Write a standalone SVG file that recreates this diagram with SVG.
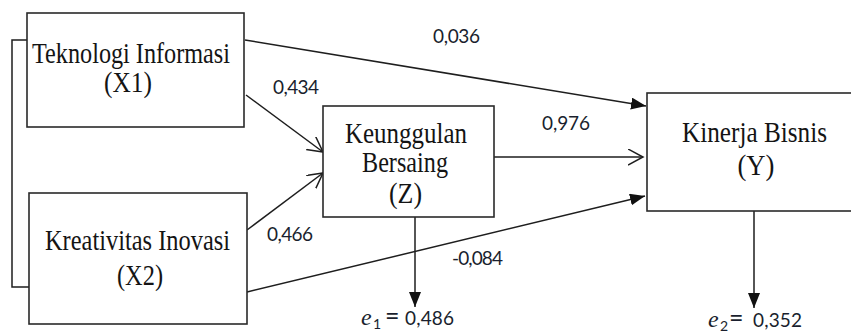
<svg xmlns="http://www.w3.org/2000/svg" width="851" height="334" viewBox="0 0 851 334">
<style>
.box{fill:#fff;stroke:#2a2a2a;stroke-width:1.6}
.bt{font-family:"Liberation Serif","Times New Roman",serif;font-size:29px;fill:#141414;text-anchor:middle}
.ln{fill:none;stroke:#1e1e1e;stroke-width:1.5}
.num{font-family:Lato,"Liberation Sans",sans-serif;font-size:19px;fill:#1a1f2e}
.ev{font-family:"Liberation Serif",serif;font-style:italic;font-size:24px;fill:#1a1f2e}
.sub{font-family:Lato,"Liberation Sans",sans-serif;font-size:14px;fill:#1a1f2e}
</style>
<defs>
<marker id="fa" markerUnits="userSpaceOnUse" markerWidth="16" markerHeight="14" refX="15" refY="6" orient="auto">
<path d="M0,0 L15,6 L0,12 z" fill="#111"/>
</marker>
<marker id="oa" markerUnits="userSpaceOnUse" markerWidth="18" markerHeight="18" refX="15" refY="8" orient="auto">
<path d="M0,0 L15,8 L0,16" fill="none" stroke="#1e1e1e" stroke-width="1.5"/>
</marker>
</defs>
<rect width="851" height="334" fill="#fff"/>
<g id="connectors">
<path class="ln" d="M27,40 H12 V287 H29"/>
<line class="ln" x1="245" y1="40" x2="646" y2="106" marker-end="url(#fa)"/>
<line class="ln" x1="246" y1="95" x2="323" y2="152" marker-end="url(#oa)"/>
<line class="ln" x1="247" y1="230" x2="323" y2="173" marker-end="url(#oa)"/>
<line class="ln" x1="494" y1="157" x2="643" y2="157" marker-end="url(#oa)"/>
<line class="ln" x1="247" y1="292" x2="645" y2="196" marker-end="url(#fa)"/>
<line class="ln" x1="415" y1="217" x2="415" y2="307" marker-end="url(#fa)"/>
<line class="ln" x1="754" y1="211" x2="754" y2="308" marker-end="url(#fa)"/>
</g>
<g id="x1">
<rect class="box" x="27" y="13" width="217" height="114"/>
<text class="bt" x="131" y="63" textLength="198" lengthAdjust="spacingAndGlyphs">Teknologi Informasi</text>
<text class="bt" x="128" y="92" textLength="48" lengthAdjust="spacingAndGlyphs">(X1)</text>
</g>
<g id="x2">
<rect class="box" x="29" y="193" width="218" height="131"/>
<text class="bt" x="137.5" y="250" textLength="185" lengthAdjust="spacingAndGlyphs">Kreativitas Inovasi</text>
<text class="bt" x="140" y="285" textLength="46" lengthAdjust="spacingAndGlyphs">(X2)</text>
</g>
<g id="z">
<rect class="box" x="323" y="106" width="171" height="111"/>
<text class="bt" x="406" y="143" textLength="122" lengthAdjust="spacingAndGlyphs">Keunggulan</text>
<text class="bt" x="405" y="172" textLength="86" lengthAdjust="spacingAndGlyphs">Bersaing</text>
<text class="bt" x="405.5" y="203" textLength="33" lengthAdjust="spacingAndGlyphs">(Z)</text>
</g>
<g id="y">
<rect class="box" x="647" y="93" width="215" height="118"/>
<text class="bt" x="754.5" y="142" textLength="145" lengthAdjust="spacingAndGlyphs">Kinerja Bisnis</text>
<text class="bt" x="756" y="175" textLength="37" lengthAdjust="spacingAndGlyphs">(Y)</text>
</g>
<g id="labels">
<text class="num" x="433" y="43" textLength="47">0,036</text>
<text class="num" x="273" y="94" textLength="46">0,434</text>
<text class="num" x="542" y="130" textLength="48">0,976</text>
<text class="num" x="267" y="241" textLength="46">0,466</text>
<text class="num" x="452" y="265" textLength="51">-0,084</text>
</g>
<g id="e1">
<text class="ev" x="361" y="325">e</text>
<text class="sub" x="373" y="329">1</text>
<text class="num" x="385" y="325" style="font-size:25px">=</text>
<text class="num" x="405" y="325" textLength="49">0,486</text>
</g>
<g id="e2">
<text class="ev" x="708" y="327">e</text>
<text class="sub" x="720" y="331">2</text>
<text class="num" x="729" y="327" style="font-size:25px">=</text>
<text class="num" x="753" y="327" textLength="49">0,352</text>
</g>
</svg>
